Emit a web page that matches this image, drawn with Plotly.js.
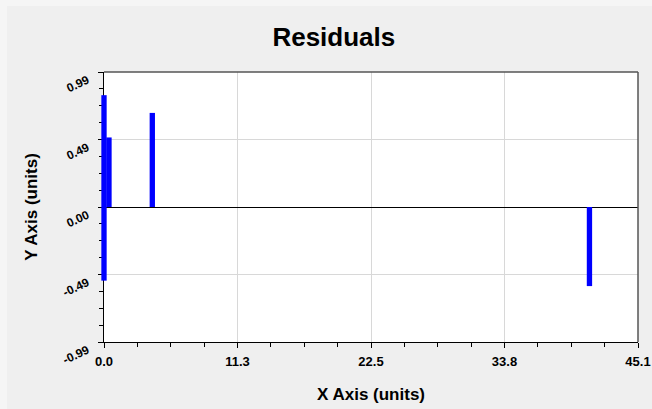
<!DOCTYPE html>
<html>
<head>
<meta charset="utf-8">
<script src="https://cdn.plot.ly/plotly-3.0.1.min.js"></script>
<style>html,body{margin:0;padding:0;background:#f5f5f5;}#chart{width:652px;height:409px;}</style>
</head>
<body>
<div id="chart"></div>
<script>
// Residual data
const xValues = [0.0, 0.0, 0.42, 4.08, 41.0];
const residuals = [0.82, -0.54, 0.51, 0.69, -0.58];

// Axis ticks
const xTickVals = [0, 11.275, 22.55, 33.825, 45.1];
const xTickText = ["0.0", "11.3", "22.5", "33.8", "45.1"];
const yTickVals = [-0.99, -0.495, 0, 0.495, 0.99];
const yTickText = ["-0.99", "-0.49", "0.00", "0.49", "0.99"];

const xMax = 45.1, yMax = 0.99;
// plot geometry (pixels): left margin + extra room so the bar at x=0 is not clipped
const W = 652, H = 409, ML = 97, MR = 14, MT = 72, MB = 67, PAD = 7;
const plotW = W - ML - MR, plotH = H - MT - MB;
const domLeft = PAD / plotW;
const xLeftExt = -PAD * xMax / (plotW - PAD);

const trace = {
  type: 'bar',
  x: xValues,
  y: residuals,
  xaxis: 'x2', yaxis: 'y2',
  width: 0.45,
  marker: {color: '#0000ff', line: {width: 0}},
  hoverinfo: 'x+y'
};
// empty trace to create the visible axes subplot
const axesTrace = {type: 'scatter', x: [], y: [], xaxis: 'x', yaxis: 'y', hoverinfo: 'skip'};

const fam = 'Liberation Sans, Arial, sans-serif';
const layout = {
  width: W, height: H,
  paper_bgcolor: '#f5f5f5',
  plot_bgcolor: 'rgba(0,0,0,0)',
  margin: {l: ML, r: MR, t: MT, b: MB, pad: 0},
  showlegend: false,
  barmode: 'overlay',
  title: {text: '<b>Residuals</b>', x: 0.512, xanchor: 'center', y: 0.91, yanchor: 'middle',
          font: {family: fam, size: 26, color: '#000'}},
  xaxis: {
    domain: [domLeft, 1],
    range: [0, xMax], tickmode: 'array', tickvals: xTickVals, ticktext: xTickText,
    ticks: 'outside', ticklen: 5, tickcolor: '#000',
    tickfont: {family: fam, size: 13, color: '#000', weight: 'bold'},
    ticklabelstandoff: 2,
    showgrid: true, gridcolor: '#d8d8d8', gridwidth: 1, zeroline: false,
    showline: true, linecolor: '#000', linewidth: 1,
    minor: {tickmode: 'linear', tick0: 0, dtick: 2.81875, ticks: 'outside', ticklen: 4, tickcolor: '#000', showgrid: false},
    title: {text: '<b>X Axis (units)</b>', standoff: 20, font: {family: fam, size: 17, color: '#000'}},
    fixedrange: true
  },
  yaxis: {
    range: [-yMax, yMax], tickmode: 'array', tickvals: yTickVals, ticktext: yTickText,
    ticks: 'outside', ticklen: 5, tickcolor: '#000',
    tickfont: {family: fam, size: 12, color: '#000', weight: 'bold'}, tickangle: -25,
    ticklabelstandoff: 8, ticklabelshift: 7,
    showgrid: true, gridcolor: '#d8d8d8', gridwidth: 1,
    zeroline: true, zerolinecolor: '#000', zerolinewidth: 1,
    showline: true, linecolor: '#000', linewidth: 1,
    minor: {tickmode: 'linear', tick0: -0.99, dtick: 0.12375, ticks: 'outside', ticklen: 4, tickcolor: '#000', showgrid: false},
    title: {text: '<b>Y Axis (units)</b>', standoff: 18, font: {family: fam, size: 17, color: '#000'}},
    fixedrange: true
  },
  xaxis2: {domain: [0, 1], range: [xLeftExt, xMax], anchor: 'y2', visible: false, fixedrange: true},
  yaxis2: {domain: [0, 1], range: [-yMax, yMax], anchor: 'x2', visible: false, fixedrange: true},
  shapes: [
    {type: 'rect', xref: 'paper', yref: 'paper', layer: 'below',
     x0: (7 - ML) / plotW, x1: (W - ML) / plotW,
     y0: -MB / plotH, y1: (H - MB - 6) / plotH,
     fillcolor: '#efefef', line: {width: 0}},
    {type: 'rect', xref: 'x domain', yref: 'y domain', x0: 0, x1: 1, y0: 0, y1: 1, layer: 'below',
     fillcolor: '#ffffff', line: {width: 0}},
    {type: 'line', xref: 'x domain', yref: 'y domain', x0: 0, x1: 1, y0: 1, y1: 1, line: {color: '#555', width: 1.5}},
    {type: 'line', xref: 'x domain', yref: 'y domain', x0: 1, x1: 1, y0: 0, y1: 1, line: {color: '#555', width: 1.5}}
  ]
};

Plotly.newPlot('chart', [axesTrace, trace], layout, {displayModeBar: false, staticPlot: true});
</script>
</body>
</html>
